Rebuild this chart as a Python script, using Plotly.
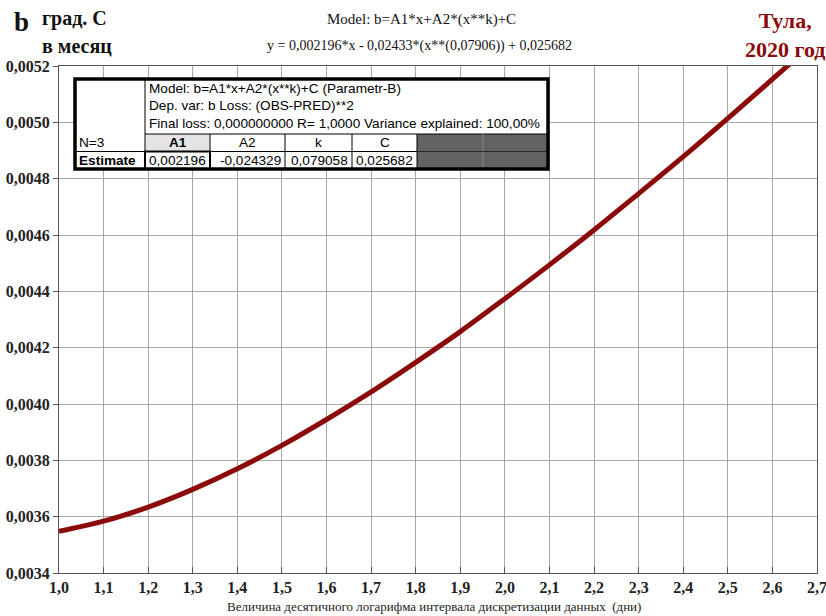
import plotly.graph_objects as go

# ---- data ----
x_vals = [1.0, 1.1, 1.2, 1.3, 1.4, 1.5, 1.6, 1.7, 1.8, 1.9,
          2.0, 2.1, 2.2, 2.3, 2.4, 2.5, 2.6, 2.7]
b_vals = [0.003548, 0.003584, 0.003634, 0.003697, 0.003770, 0.003853,
          0.003945, 0.004043, 0.004148, 0.004257, 0.004374, 0.004494,
          0.004618, 0.004747, 0.004878, 0.005014, 0.005153, 0.005293]

x_ticks = [round(1.0 + 0.1 * i, 1) for i in range(18)]
y_ticks = [0.0034, 0.0036, 0.0038, 0.0040, 0.0042, 0.0044, 0.0046,
           0.0048, 0.0050, 0.0052]

table_lines = [
    "Model: b=A1*x+A2*(x**k)+C (Parametr-B)",
    "Dep. var: b Loss: (OBS-PRED)**2",
    "Final loss: 0,000000000 R= 1,0000 Variance explained: 100,00%",
]
param_names = ["A1", "A2", "k", "C"]
param_estimates = ["0,002196", "-0,024329", "0,079058", "0,025682"]

W, H = 826, 616
L, R, T, B = 59, 817, 66, 573


def px(xp):
    return (xp - L) / (R - L)


def py(yp):
    return (B - yp) / (B - T)


fig = go.Figure()
fig.add_trace(go.Scatter(
    x=x_vals, y=b_vals, mode="lines",
    line=dict(color="#8b0a0a", width=5, shape="spline"),
    hoverinfo="skip", showlegend=False,
))

serif = "Liberation Serif, Times New Roman, serif"
sans = "Liberation Sans, Arial, sans-serif"

fig.update_layout(
    width=W, height=H,
    margin=dict(l=L, r=W - R, t=T, b=H - B, autoexpand=False),
    paper_bgcolor="white", plot_bgcolor="white",
    separators=", ",
    showlegend=False,
    xaxis=dict(
        range=[1.0, 2.7], tickvals=x_ticks, tickformat=".1f",
        automargin=False, ticklabeloverflow="allow",
        showgrid=True, gridcolor="#a8a8a8", gridwidth=1,
        showline=True, linecolor="#555555", linewidth=1, mirror=True,
        ticks="inside", ticklen=6, tickcolor="#555555",
        tickfont=dict(family=serif, size=16, color="#222222", weight="bold"),
        zeroline=False,
    ),
    yaxis=dict(
        range=[0.0034, 0.0052], tickvals=y_ticks, tickformat=".4f",
        automargin=False, ticklabeloverflow="allow",
        showgrid=True, gridcolor="#a8a8a8", gridwidth=1,
        showline=True, linecolor="#555555", linewidth=1, mirror=True,
        ticks="outside", ticklen=5, tickcolor="#555555",
        tickfont=dict(family=serif, size=16, color="#222222", weight="bold"),
        zeroline=False,
    ),
)

shapes = []
annotations = []

# header texts
annotations.append(dict(xref="paper", yref="paper", x=px(21), y=py(22),
                        text="<b>b</b>", showarrow=False,
                        font=dict(family=serif, size=27, color="#111111"),
                        xanchor="center", yanchor="middle"))
annotations.append(dict(xref="paper", yref="paper", x=px(40), y=py(19),
                        text="<b>град. С</b>", showarrow=False,
                        font=dict(family=serif, size=20, color="#111111"),
                        xanchor="left", yanchor="middle"))
annotations.append(dict(xref="paper", yref="paper", x=px(40), y=py(46),
                        text="<b>в месяц</b>", showarrow=False,
                        font=dict(family=serif, size=20, color="#111111"),
                        xanchor="left", yanchor="middle"))
annotations.append(dict(xref="paper", yref="paper", x=px(421), y=py(20),
                        text="Model: b=A1*x+A2*(x**k)+C", showarrow=False,
                        font=dict(family=serif, size=15, color="#111111"),
                        xanchor="center", yanchor="middle"))
annotations.append(dict(xref="paper", yref="paper", x=px(419), y=py(46),
                        text="y = 0,002196*x - 0,02433*(x**(0,07906)) + 0,025682",
                        showarrow=False,
                        font=dict(family=serif, size=14, color="#111111"),
                        xanchor="center", yanchor="middle"))
annotations.append(dict(xref="paper", yref="paper", x=px(785), y=py(35),
                        text="<b>Тула,<br>2020 год</b>", showarrow=False,
                        align="center",
                        font=dict(family=serif, size=22, color="#8b0a0a"),
                        xanchor="center", yanchor="middle"))
annotations.append(dict(xref="paper", yref="paper", x=px(434), y=py(606),
                        text="Величина десятичного логарифма интервала дискретизации данных  (дни)",
                        showarrow=False,
                        font=dict(family=serif, size=13, color="#222222"),
                        xanchor="center", yanchor="middle"))

# ---- inset results table ----
tx0, tx1, ty0, ty1 = 75, 548, 79, 169
col_left = 145
row_hdr, row_est = 134, 151.5
col_edges = [145, 210, 285, 352, 417, 483, 548]


def rect(x0, y0, x1, y1, fill=None, lc="black", lw=1):
    shapes.append(dict(type="rect", xref="paper", yref="paper",
                       x0=px(x0), x1=px(x1), y0=py(y0), y1=py(y1),
                       fillcolor=fill if fill else "rgba(0,0,0,0)",
                       line=dict(color=lc, width=lw), layer="above"))


def line(x0, y0, x1, y1, lc="black", lw=1):
    shapes.append(dict(type="line", xref="paper", yref="paper",
                       x0=px(x0), x1=px(x1), y0=py(y0), y1=py(y1),
                       line=dict(color=lc, width=lw), layer="above"))


rect(tx0, ty0, tx1, ty1, fill="white", lc="white", lw=0)
rect(col_edges[0], row_hdr, col_edges[1], row_est, fill="#e4e4e4", lc="rgba(0,0,0,0)", lw=0)
rect(col_edges[4], row_hdr, tx1, ty1, fill="#626262", lc="rgba(0,0,0,0)", lw=0)
line(col_left, ty0, col_left, ty1)
line(col_left, row_hdr, tx1, row_hdr)
line(tx0, row_est, tx1, row_est)
for ce in col_edges[1:4]:
    line(ce, row_hdr, ce, ty1)
line(col_edges[4], row_hdr, col_edges[4], ty1)
line(col_edges[5], row_hdr, col_edges[5], ty1, lc="#8a8a8a")
line(col_edges[4], row_est, tx1, row_est, lc="#2a2a2a")
rect(col_edges[0], row_est, col_edges[1], ty1, lc="black", lw=2)
rect(tx0, ty0, tx1, ty1, lc="black", lw=3.5)

row_y = [88, 105.5, 123]
fs = 13.6
for txt, yy in zip(table_lines, row_y):
    annotations.append(dict(xref="paper", yref="paper", x=px(col_left + 2), y=py(yy),
                            text=txt, showarrow=False,
                            font=dict(family=sans, size=fs, color="black"),
                            xanchor="left", yanchor="middle"))

annotations.append(dict(xref="paper", yref="paper", x=px(tx0 + 2), y=py(142.5),
                        text="N=3", showarrow=False,
                        font=dict(family=sans, size=fs, color="black"),
                        xanchor="left", yanchor="middle"))
annotations.append(dict(xref="paper", yref="paper", x=px(tx0 + 2), y=py(160.5),
                        text="<b>Estimate</b>", showarrow=False,
                        font=dict(family=sans, size=fs, color="black"),
                        xanchor="left", yanchor="middle"))
for i, (nm, est) in enumerate(zip(param_names, param_estimates)):
    c0, c1 = col_edges[i], col_edges[i + 1]
    label = "<b>%s</b>" % nm if i == 0 else nm
    annotations.append(dict(xref="paper", yref="paper", x=px((c0 + c1) / 2), y=py(142.5),
                            text=label, showarrow=False,
                            font=dict(family=sans, size=fs, color="black"),
                            xanchor="center", yanchor="middle"))
    annotations.append(dict(xref="paper", yref="paper", x=px(c1 - 2), y=py(160.5),
                            text=est, showarrow=False,
                            font=dict(family=sans, size=fs, color="black"),
                            xanchor="right", yanchor="middle"))

fig.update_layout(shapes=shapes, annotations=annotations)
fig.write_html("out.html")
